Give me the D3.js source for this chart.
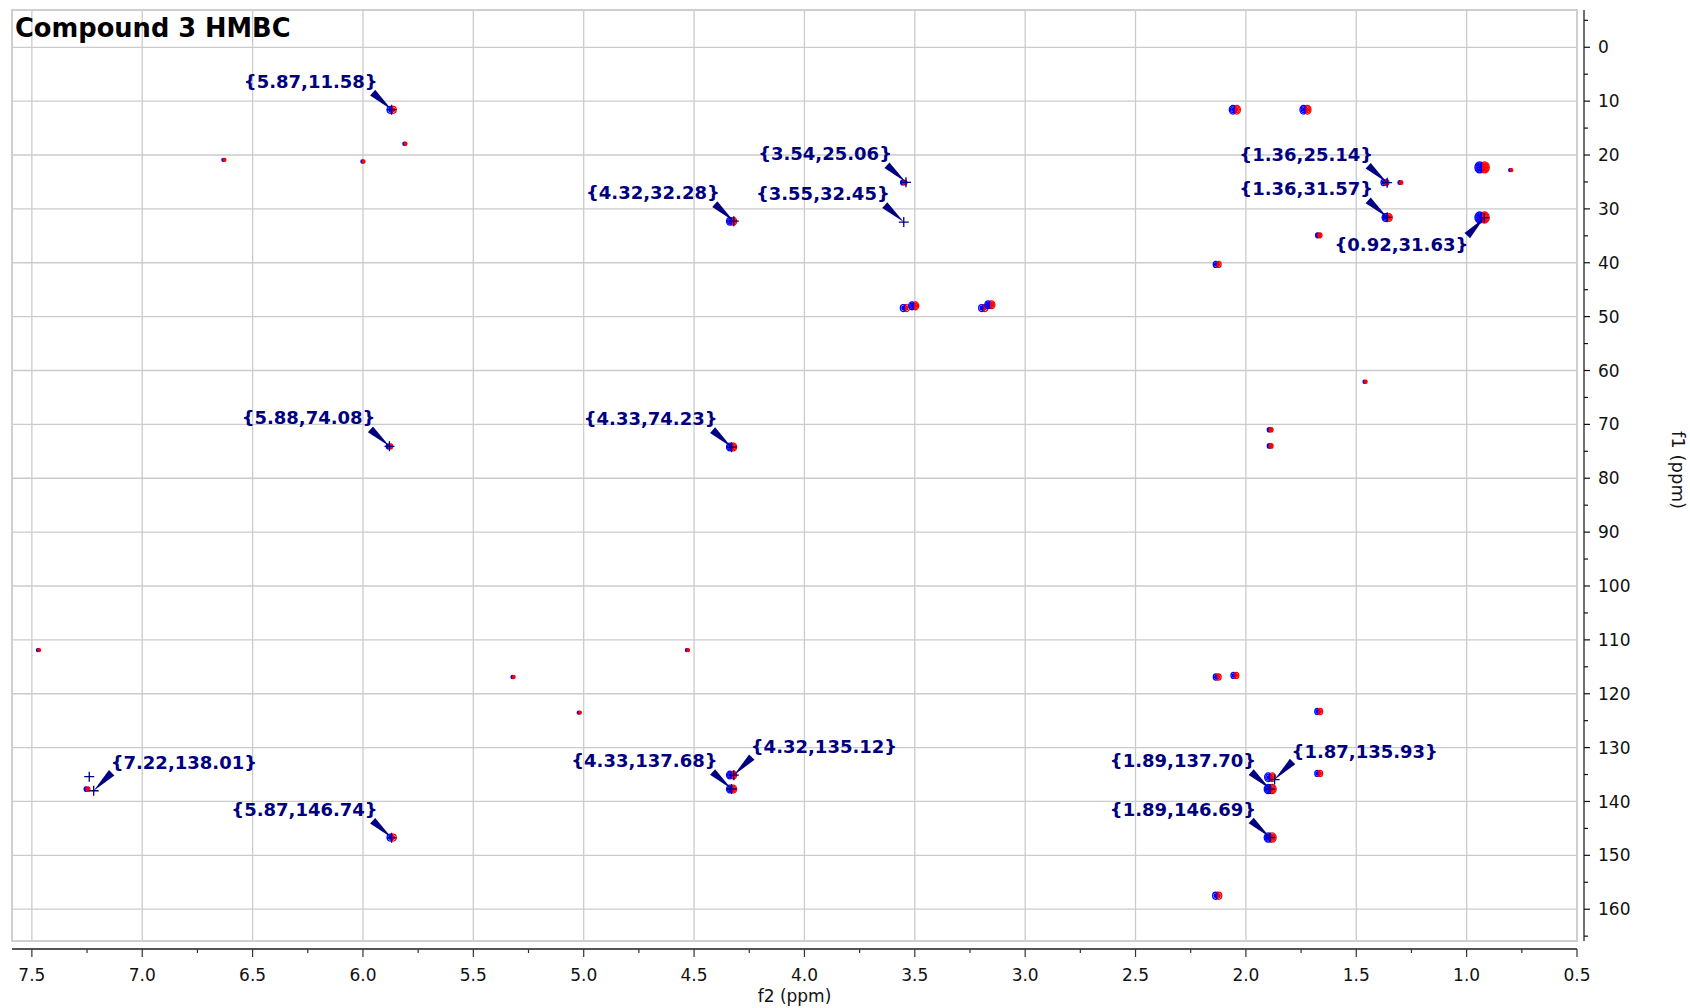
<!DOCTYPE html>
<html>
<head>
<meta charset="utf-8">
<script src="https://cdn.jsdelivr.net/npm/d3@7"></script>
<style>
  body { margin: 0; background: #fff; }
  svg { display: block; font-family: "DejaVu Sans", Verdana, sans-serif; }
</style>
</head>
<body>
<svg width="1690" height="1008"></svg>
<script>
// annotated cross peaks (f2, f1 in ppm)
const labelF2 = [5.87, 3.54, 4.32, 3.55, 1.36, 1.36, 0.92, 5.88, 4.33, 7.22, 5.87, 4.33, 4.32, 1.89, 1.87, 1.89]
const labelF1 = [11.58, 25.06, 32.28, 32.45, 25.14, 31.57, 31.63, 74.08, 74.23, 138.01, 146.74, 137.68, 135.12, 137.70, 135.93, 146.69]
// ul = label up-left, ur = up-right, dl = down-left
const labelSide = ['ul', 'ul', 'ul', 'ul', 'ul', 'ul', 'dl', 'ul', 'ul', 'ur', 'ul', 'ul', 'ur', 'ul', 'ur', 'ul']

// extra peak pick crosses without label
const crossF2 = [7.24]
const crossF1 = [135.4]

// contour blobs: f2, f1, rough relative intensity
const peakF2 = [5.87, 2.05, 1.73, 6.63, 6.00, 5.81, 3.55, 1.37, 1.30, 0.93, 0.80, 4.33, 1.36, 0.93, 1.67, 2.13,
  3.545, 3.505, 3.19, 3.16, 1.46, 5.88, 4.33, 1.89, 1.89, 7.47, 4.53, 5.32, 5.02, 2.13, 2.05, 1.67, 1.67, 2.13,
  7.25, 5.87, 4.33, 4.33, 1.89, 1.89, 1.89]
const peakF1 = [11.6, 11.6, 11.6, 20.9, 21.2, 17.9, 25.1, 25.1, 25.1, 22.3, 22.8, 32.3, 31.6, 31.6, 34.9, 40.3,
  48.4, 48.0, 48.4, 47.8, 62.1, 74.1, 74.2, 71.0, 74.0, 111.9, 111.9, 116.9, 123.5, 116.9, 116.6, 123.3, 134.8, 157.5,
  137.7, 146.7, 137.7, 135.1, 137.7, 135.5, 146.7]
const peakInt = [2, 3, 3, 0.4, 0.4, 0.4, 1, 1.5, 0.6, 5, 0.4, 2.5, 2.5, 5, 1, 1.5,
  2, 2.5, 2, 2.5, 0.4, 1, 2.5, 0.8, 0.8, 0.4, 0.4, 0.4, 0.4, 1.5, 1.5, 1.5, 1.5, 2,
  0.8, 2, 2.5, 2.5, 3.5, 3, 3.5]

const xTicks = d3.range(7.5, 0.49, -0.5)
const yTicks = d3.range(0, 161, 10)

const svg = d3.select('svg')
const plot = {left: 12, right: 1577, top: 10, bottom: 941}

const x = d3.scaleLinear().domain([7.59, 0.5]).range([plot.left, plot.right])
const y = d3.scaleLinear().domain([-6.92, 165.9]).range([plot.top, plot.bottom])
const r = d3.scaleSqrt().domain([0, 5]).range([0, 5.5])

// grid
const grid = svg.append('g').attr('stroke', '#cbcbcb').attr('stroke-width', 1.3)
grid.selectAll('line.v').data(xTicks).join('line').attr('class', 'v')
  .attr('x1', d => x(d)).attr('x2', d => x(d)).attr('y1', plot.top).attr('y2', plot.bottom)
grid.selectAll('line.h').data(yTicks).join('line').attr('class', 'h')
  .attr('x1', plot.left).attr('x2', plot.right).attr('y1', d => y(d)).attr('y2', d => y(d))
svg.append('rect')
  .attr('x', plot.left).attr('y', plot.top)
  .attr('width', plot.right - plot.left).attr('height', plot.bottom - plot.top)
  .attr('fill', 'none').attr('stroke', '#cfcfcf').attr('stroke-width', 2)

svg.append('text')
  .attr('x', 15).attr('y', 37)
  .attr('font-size', 25.7).attr('font-weight', 'bold')
  .text('Compound 3 HMBC')

// contours
const peaks = peakF2.map((d, i) => ({f2: d, f1: peakF1[i], v: peakInt[i]}))
const blobs = svg.append('g').attr('fill', 'none')
peaks.forEach(p => {
  const cx = x(p.f2), cy = y(p.f1)
  const rad = r(p.v)
  const off = rad * 0.45
  const rings = Math.max(1, Math.ceil(p.v))
  for (let k = rings; k >= 1; k--) {
    const rr = rad * k / rings
    blobs.append('ellipse').attr('cx', cx - off).attr('cy', cy)
      .attr('rx', Math.max(rr * 0.85, 0.8)).attr('ry', Math.max(rr, 0.8))
      .attr('stroke', '#0000ff').attr('stroke-width', 1.3)
      .attr('fill', k === 1 ? '#0000ff' : 'none')
    blobs.append('ellipse').attr('cx', cx + off).attr('cy', cy)
      .attr('rx', Math.max(rr * 0.85, 0.8)).attr('ry', Math.max(rr, 0.8))
      .attr('stroke', '#ff0000').attr('stroke-width', 1.3)
      .attr('fill', k === 1 ? '#ff0000' : 'none')
  }
  if (p.v >= 2) {
    blobs.append('line')
      .attr('x1', cx - off * 0.3).attr('x2', cx - off * 0.3)
      .attr('y1', cy - rad).attr('y2', cy + rad)
      .attr('stroke', '#0000ff').attr('stroke-width', 1.2)
  }
})

// peak labels
const navy = '#000080'
const side = {
  ul: {dx: -14, dy: -22, anchor: 'end', bx: -19, by: -17},
  ur: {dx: 17, dy: -22, anchor: 'start', bx: 18, by: -18},
  dl: {dx: -16, dy: 33, anchor: 'end', bx: -17, by: 18}
}
const ann = labelF2.map((d, i) => ({f2: d, f1: labelF1[i], s: side[labelSide[i]]}))
const annG = svg.append('g')

const crosses = ann.map(d => [d.f2, d.f1]).concat(crossF2.map((d, i) => [d, crossF1[i]]))
annG.selectAll('path.cross').data(crosses).join('path').attr('class', 'cross')
  .attr('d', d => {
    const cx = x(d[0]), cy = y(d[1])
    return `M${cx - 5},${cy}H${cx + 5}M${cx},${cy - 5}V${cy + 5}`
  })
  .attr('stroke', navy).attr('stroke-width', 1.3)

annG.selectAll('path.wedge').data(ann).join('path').attr('class', 'wedge')
  .attr('d', d => {
    const px = x(d.f2), py = y(d.f1)
    const bx = px + d.s.bx, by = py + d.s.by
    const len = Math.hypot(d.s.bx, d.s.by)
    const nx = -d.s.by / len * 3.8, ny = d.s.bx / len * 3.8
    return `M${bx + nx},${by + ny}L${bx - nx},${by - ny}L${px},${py}Z`
  })
  .attr('fill', navy)

annG.selectAll('text').data(ann).join('text')
  .attr('x', d => x(d.f2) + d.s.dx)
  .attr('y', d => y(d.f1) + d.s.dy)
  .attr('text-anchor', d => d.s.anchor)
  .attr('font-size', 18).attr('font-weight', 'bold')
  .attr('fill', navy)
  .text(d => `{${d.f2.toFixed(2)},${d.f1.toFixed(2)}}`)

// x axis
const xAxis = svg.append('g').attr('transform', `translate(0,949)`)
xAxis.append('line').attr('x1', plot.left).attr('x2', plot.right)
  .attr('stroke', '#555').attr('stroke-width', 2)
xAxis.selectAll('line.minor').data(d3.range(7.25, 0.6, -0.5)).join('line').attr('class', 'minor')
  .attr('x1', d => x(d)).attr('x2', d => x(d)).attr('y1', 0).attr('y2', 4)
  .attr('stroke', '#333').attr('stroke-width', 1.2)
xAxis.selectAll('line.major').data(xTicks).join('line').attr('class', 'major')
  .attr('x1', d => x(d)).attr('x2', d => x(d)).attr('y1', 0).attr('y2', 8)
  .attr('stroke', '#333').attr('stroke-width', 1.2)
xAxis.selectAll('text').data(xTicks).join('text')
  .attr('x', d => x(d)).attr('y', 32)
  .attr('text-anchor', 'middle').attr('font-size', 17).attr('fill', '#111')
  .text(d => d.toFixed(1))
svg.append('text')
  .attr('x', (plot.left + plot.right) / 2).attr('y', 1002)
  .attr('text-anchor', 'middle').attr('font-size', 17).attr('fill', '#111')
  .text('f2 (ppm)')

// y axis
const yAxis = svg.append('g').attr('transform', `translate(1584,0)`)
yAxis.append('line').attr('y1', plot.top).attr('y2', plot.bottom)
  .attr('stroke', '#111').attr('stroke-width', 1.2)
yAxis.selectAll('line.minor').data(d3.range(-5, 166, 10)).join('line').attr('class', 'minor')
  .attr('x1', 0).attr('x2', 4).attr('y1', d => y(d)).attr('y2', d => y(d))
  .attr('stroke', '#111').attr('stroke-width', 1.2)
yAxis.selectAll('line.major').data(yTicks).join('line').attr('class', 'major')
  .attr('x1', 0).attr('x2', 6).attr('y1', d => y(d)).attr('y2', d => y(d))
  .attr('stroke', '#111').attr('stroke-width', 1.2)
yAxis.selectAll('text').data(yTicks).join('text')
  .attr('x', 14).attr('y', d => y(d)).attr('dy', '0.36em')
  .attr('font-size', 17).attr('fill', '#111')
  .text(d => d)
svg.append('text')
  .attr('transform', 'translate(1672,470) rotate(90)')
  .attr('text-anchor', 'middle').attr('font-size', 18).attr('fill', '#111')
  .text('f1 (ppm)')
</script>
</body>
</html>
